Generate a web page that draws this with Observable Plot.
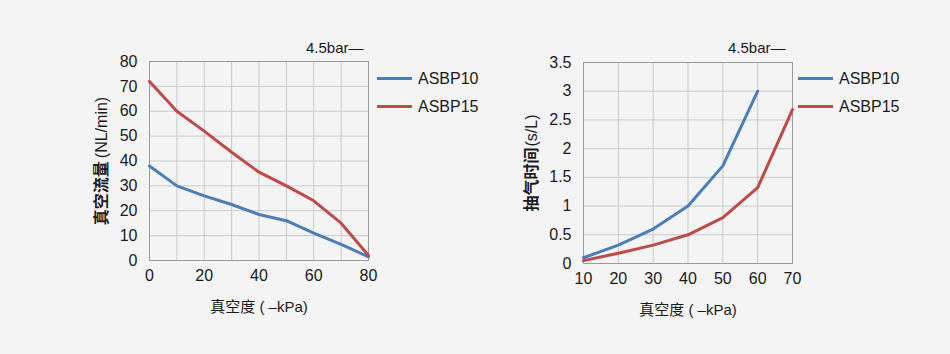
<!DOCTYPE html>
<html><head><meta charset="utf-8">
<script src="https://cdn.jsdelivr.net/npm/d3@7"></script>
<script src="https://cdn.jsdelivr.net/npm/@observablehq/plot@0.6"></script>
<style>
html,body{margin:0;padding:0;background:#f4f4f4;}
#wrap{position:relative;width:950px;height:354px;overflow:hidden;font-family:"Liberation Sans",Arial,"Noto Sans CJK SC",sans-serif;color:#1a1a1a;}
.panel{position:absolute;top:0;}
.note{position:absolute;font-size:15px;color:#1a1a1a;white-space:nowrap;}
.leg{position:absolute;font-size:16px;color:#1a1a1a;white-space:nowrap;line-height:18px;}
.leg span.sw{display:inline-block;width:35px;height:3px;vertical-align:middle;margin-right:6px;position:relative;top:-1px;}
g[aria-label="y-axis label"] text, g[aria-label="x-axis label"] text{fill:#1a1a1a;}
</style></head>
<body><div id="wrap"></div>
<script>
// ---- data ----
const seriesNames = ["ASBP10", "ASBP15"];
const seriesColors = ["#4a7ebb", "#be4b48"];

const flowX = [0, 10, 20, 30, 40, 50, 60, 70, 80];
const flowASBP10 = [38, 30, 26, 22.5, 18.5, 16, 11, 6.5, 1.5];
const flowASBP15 = [72, 60, 52, 43.5, 35.5, 30, 24, 15, 2];
const flowXTicks = [0, 20, 40, 60, 80];
const flowXGrid = [0, 10, 20, 30, 40, 50, 60, 70, 80];
const flowYTicks = [0, 10, 20, 30, 40, 50, 60, 70, 80];

const timeX = [10, 20, 30, 40, 50, 60, 70];
const timeASBP10 = [0.1, 0.32, 0.6, 1.0, 1.7, 3.0];
const timeASBP15 = [0.05, 0.18, 0.32, 0.5, 0.8, 1.32, 2.68];
const timeXTicks = [10, 20, 30, 40, 50, 60, 70];
const timeYTicks = [0, 0.5, 1, 1.5, 2, 2.5, 3, 3.5];
const timeYLabels = ["0", "0.5", "1", "1.5", "2", "2.5", "3", "3.5"];

const xLabel = "真空度 ( –kPa)";
const flowYLabel = ["真空流量", "(NL/min)"];
const timeYLabel = ["抽气时间", "(s/L)"];
const pressureNote = "4.5bar—";

// build tables
function rows(xs, ys, name) { return ys.map((v, i) => ({x: xs[i], y: v, s: name})); }
const flowData = [...rows(flowX, flowASBP10, seriesNames[0]), ...rows(flowX, flowASBP15, seriesNames[1])];
const timeData = [...rows(timeX, timeASBP10, seriesNames[0]), ...rows(timeX, timeASBP15, seriesNames[1])];

const font = '"Liberation Sans", Arial, "Noto Sans CJK SC", sans-serif';
const gridStroke = "#c9c9c9";
const frameStroke = "#9a9a9a";

function chart(cfg) {
  return Plot.plot({
    width: 475, height: 354,
    marginLeft: cfg.ml, marginRight: cfg.mr, marginTop: cfg.mt, marginBottom: cfg.mb,
    style: {background: "transparent", fontSize: "16px", fontFamily: font, color: "#1a1a1a", overflow: "visible"},
    x: {domain: cfg.xd, label: null},
    y: {domain: cfg.yd, label: null},
    color: {domain: seriesNames, range: seriesColors},
    marks: [
      Plot.gridX(cfg.xgrid, {stroke: gridStroke, strokeOpacity: 1, strokeWidth: 1}),
      Plot.gridY(cfg.yticks, {stroke: gridStroke, strokeOpacity: 1, strokeWidth: 1}),
      Plot.frame({stroke: frameStroke, strokeWidth: 1}),
      Plot.axisX(cfg.xticks, {tickSize: 0, tickPadding: 9, fontSize: 16, label: xLabel, labelAnchor: "center", labelOffset: 51, labelArrow: "none"}),
      Plot.axisY(cfg.yticks, {tickSize: 0, tickPadding: 12, fontSize: 16, tickFormat: cfg.yfmt, label: cfg.ylabel.join(""), labelAnchor: "center", labelOffset: cfg.ylo, labelArrow: "none"}),
      Plot.line(cfg.data, {x: "x", y: "y", stroke: "s", z: "s", strokeWidth: 3, strokeLinejoin: "round", strokeLinecap: "round"})
    ]
  });
}

const wrap = document.getElementById("wrap");

const left = chart({ml: 149, mr: 107, mt: 61, mb: 94, xd: [0, 80], yd: [0, 80], xgrid: flowXGrid, xticks: flowXTicks, yticks: flowYTicks, yfmt: d => String(d), ylabel: flowYLabel, ylo: 54, data: flowData});
left.classList.add("panel"); left.style.left = "0px";
wrap.appendChild(left);

const right = chart({ml: 108, mr: 158, mt: 62, mb: 91, xd: [10, 70], yd: [0, 3.5], xgrid: timeXTicks, xticks: timeXTicks, yticks: timeYTicks, yfmt: (d, i) => timeYLabels[timeYTicks.indexOf(d)], ylabel: timeYLabel, ylo: 58, data: timeData});
right.classList.add("panel"); right.style.left = "475px";
wrap.appendChild(right);

// style axis labels: bold CJK part
[[left, flowYLabel, 3], [right, timeYLabel, 1]].forEach(([svg, lab, gap]) => {
  const t = d3.select(svg).select('g[aria-label="y-axis label"] text');
  if (!t.empty()) {
    t.attr("font-size", 16);
    t.text(null);
    t.append("tspan").attr("font-weight", "bold").text(lab[0]);
    t.append("tspan").attr("dx", gap).text(lab[1]);
  }
  const xt = d3.select(svg).select('g[aria-label="x-axis label"] text');
  if (!xt.empty()) xt.attr("font-size", 15);
});

// notes & legends
function addNote(x, y) {
  const d = document.createElement("div");
  d.className = "note"; d.style.left = x + "px"; d.style.top = y + "px"; d.textContent = pressureNote;
  wrap.appendChild(d);
}
addNote(306, 39);
addNote(728, 39);

function addLegend(x, y) {
  seriesNames.forEach((n, i) => {
    const d = document.createElement("div");
    d.className = "leg"; d.style.left = x + "px"; d.style.top = (y + i * 28) + "px";
    const sw = document.createElement("span"); sw.className = "sw"; sw.style.background = seriesColors[i];
    d.appendChild(sw); d.appendChild(document.createTextNode(n));
    wrap.appendChild(d);
  });
}
addLegend(377, 70);
addLegend(798, 70);
</script>
</body></html>
